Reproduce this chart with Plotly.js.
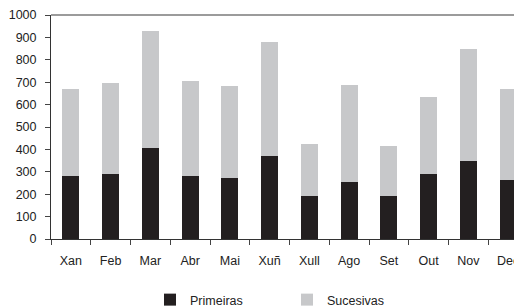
<!DOCTYPE html>
<html>
<head>
<meta charset="utf-8">
<script src="https://cdn.plot.ly/plotly-3.0.1.min.js"></script>
<style>
html,body{margin:0;padding:0;overflow:hidden;background:#fff;}
#chart{width:540px;height:307px;}
</style>
</head>
<body>
<div id="chart"></div>
<script>
var months = ["Xan","Feb","Mar","Abr","Mai","Xuñ","Xull","Ago","Set","Out","Nov","Dec"];
var primeiras = [281, 290, 406, 281, 272, 372, 192, 254, 192, 290, 348, 263];
var sucesivas = [389, 406, 523, 424, 411, 507, 232, 433, 223, 344, 500, 407];
var yTicks = [0,100,200,300,400,500,600,700,800,900,1000];

var font = {family: "Liberation Sans, Arial, sans-serif", size: 12.5, color: "#222"};

var traces = [
  {type: "bar", name: "Primeiras", x: months, y: primeiras,
   marker: {color: "#231f20"}},
  {type: "bar", name: "Sucesivas", x: months, y: sucesivas,
   marker: {color: "#c7c8ca"}}
];

var layout = {
  width: 540, height: 307,
  margin: {l: 51, r: 12, t: 15, b: 68, pad: 0},
  barmode: "stack",
  bargap: 0.57,
  font: font,
  paper_bgcolor: "#fff",
  plot_bgcolor: "#fff",
  showlegend: true,
  legend: {
    orientation: "h",
    xref: "container", yref: "container",
    x: 150 / 540, xanchor: "left",
    y: 7 / 307, yanchor: "middle",
    font: {family: font.family, size: 12.5, color: "#222"},
    entrywidth: 92,
    traceorder: "normal",
    itemclick: false
  },
  xaxis: {
    type: "category",
    tickson: "boundaries",
    ticks: "outside", ticklen: 5, tickcolor: "#444", tickwidth: 1,
    showline: true, linecolor: "#333", linewidth: 1,
    showgrid: false, zeroline: false,
    ticklabelstandoff: 10,
    tickfont: font
  },
  yaxis: {
    range: [0, 1000],
    tickvals: yTicks,
    ticktext: yTicks.map(String),
    ticks: "outside", ticklen: 5, tickcolor: "#444", tickwidth: 1,
    showline: true, linecolor: "#333", linewidth: 1,
    showgrid: false, zeroline: false,
    ticklabelstandoff: 6,
    tickfont: font
  },
  shapes: [
    {type: "line", xref: "paper", yref: "paper", x0: 0, x1: 1, y0: 1, y1: 1,
     line: {color: "#7a7a7a", width: 1.5}}
  ]
};

Plotly.newPlot("chart", traces, layout, {displayModeBar: false, staticPlot: true});
</script>
</body>
</html>
